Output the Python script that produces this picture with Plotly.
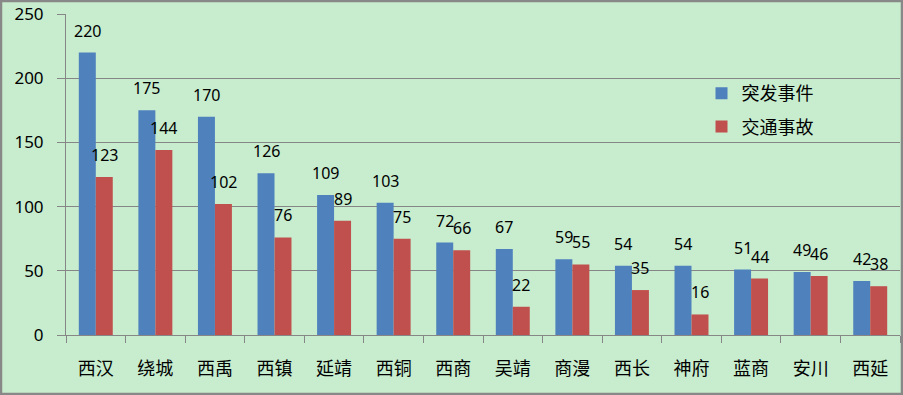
import plotly.graph_objects as go

categories = ["西汉", "绕城", "西禹", "西镇", "延靖", "西铜", "西商", "吴靖", "商漫", "西长", "神府", "蓝商", "安川", "西延"]
emergencies = [220, 175, 170, 126, 109, 103, 72, 67, 59, 54, 54, 51, 49, 42]
accidents = [123, 144, 102, 76, 89, 75, 66, 22, 55, 35, 16, 44, 46, 38]
series_names = ["突发事件", "交通事故"]
y_ticks = [0, 50, 100, 150, 200, 250]

BLUE = "#4F81BD"
RED = "#C0504D"
BG = "rgb(199,236,206)"
GRID = "#868686"

fig = go.Figure()
fig.add_trace(go.Bar(
    x=categories, y=emergencies, name=series_names[0], marker_color=BLUE,
    marker_line_width=0, legendgroup="a",
))
fig.add_trace(go.Bar(
    x=categories, y=accidents, name=series_names[1], marker_color=RED,
    marker_line_width=0, legendgroup="b",
))

annotations = []
for series, shift in ((emergencies, -8.5), (accidents, 8.5)):
    for c, v in zip(categories, series):
        annotations.append(dict(
            x=c, y=v, xref="x", yref="y", text=str(v), showarrow=False,
            xanchor="center", yanchor="bottom", xshift=shift, yshift=9,
            font=dict(family="Noto Sans", size=16, color="#000000"),
        ))

fig.update_layout(
    width=903, height=395,
    margin=dict(l=66, r=3, t=14, b=60, autoexpand=False),
    paper_bgcolor=BG, plot_bgcolor=BG,
    barmode="group", bargap=0.43, bargroupgap=0,
    showlegend=True,
    legend=dict(
        x=0.762, y=0.81, xanchor="left", yanchor="top",
        bgcolor="rgba(0,0,0,0)",
        font=dict(family="Noto Sans CJK SC", size=18, color="#000000"),
        tracegroupgap=7, itemwidth=30,
    ),
    annotations=annotations,
    xaxis=dict(
        showline=True, linecolor=GRID, linewidth=1,
        ticks="outside", ticklen=7, tickcolor=GRID, tickson="boundaries",
        tickfont=dict(family="Noto Sans CJK SC", size=18, color="#000000"),
        ticklabelstandoff=17,
        showgrid=False,
    ),
    yaxis=dict(
        range=[0, 250], tickvals=y_ticks,
        showline=True, linecolor=GRID, linewidth=1,
        ticks="outside", ticklen=8, tickcolor=GRID,
        showgrid=True, gridcolor=GRID, gridwidth=1,
        tickfont=dict(family="Noto Sans", size=17, color="#000000"),
        ticklabelstandoff=10,
        zeroline=False,
    ),
    shapes=[dict(
        type="rect", xref="paper", yref="paper",
        x0=-65/834, x1=1 + 2/834, y0=-(60 - 1)/321, y1=1 + 13/321,
        line=dict(color="#888888", width=2.5), fillcolor="rgba(0,0,0,0)",
        layer="above",
    )],
)

fig.write_html(
    "out.html",
    config={"displayModeBar": False},
    post_script="document.body.style.margin='0';document.body.style.padding='0';",
)
